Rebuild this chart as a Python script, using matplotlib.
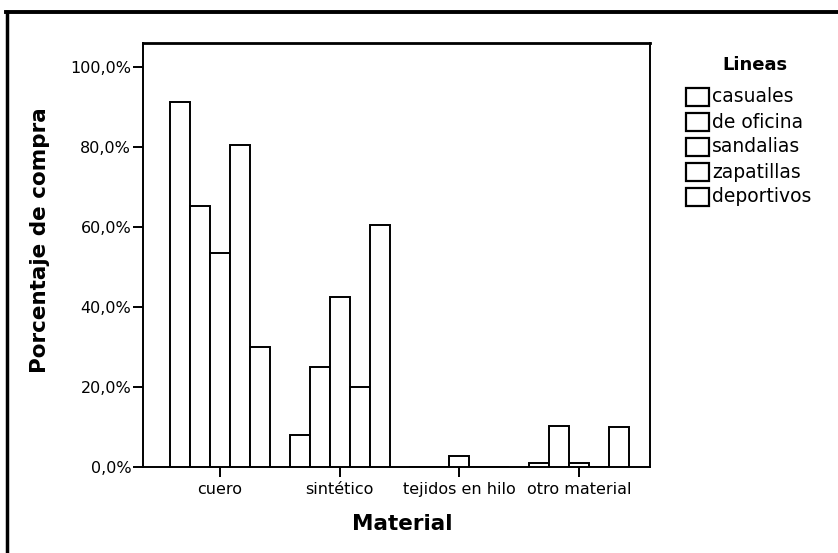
import numpy as np
import matplotlib
matplotlib.use("Agg")
import matplotlib.pyplot as plt
from matplotlib.patches import Rectangle
from matplotlib.lines import Line2D

W, H = 838, 553

# data (percent of purchases per material, by shoe line)
MATERIALES = ["cuero", "sintético", "tejidos en hilo", "otro material"]
LINEAS = ["casuales", "de oficina", "sandalias", "zapatillas", "deportivos"]
casuales   = [91.3,  8.0, 0.0,  1.0]
de_oficina = [65.2, 25.0, 0.0, 10.3]
sandalias  = [53.5, 42.5, 2.8,  1.0]
zapatillas = [80.5, 20.0, 0.0,  0.0]
deportivos = [30.0, 60.5, 0.0, 10.0]
SERIES = [casuales, de_oficina, sandalias, zapatillas, deportivos]
YTICKS = [0, 20, 40, 60, 80, 100]
YTICKLABELS = ["0,0%", "20,0%", "40,0%", "60,0%", "80,0%", "100,0%"]

plt.rcParams["font.family"] = ["DejaVu Sans"]


def fx(px):
    return px / W


def fy(py):
    return (H - py) / H


fig = plt.figure(figsize=(W / 100, H / 100), dpi=100)
ax = fig.add_axes([fx(143), fy(467), (650 - 143) / W, (467 - 42.7) / H])

x = np.arange(len(MATERIALES))
bw = 0.167
for i, vals in enumerate(SERIES):
    ax.bar(x + (i - 2) * bw, vals, width=bw, facecolor="white",
           edgecolor="black", linewidth=1.4, label=LINEAS[i], zorder=3)

ax.set_xlim(-0.643, 3.592)
ax.set_ylim(0, 106)
ax.set_yticks(YTICKS)
ax.set_yticklabels(YTICKLABELS, fontsize=11.5)
ax.set_xticks(x)
ax.set_xticklabels(MATERIALES, fontsize=11.5)
ax.tick_params(axis="both", direction="out", length=7, width=1.4, colors="black")
ax.tick_params(axis="y", pad=1.5)
ax.tick_params(axis="x", pad=3.5)
for s in ax.spines.values():
    s.set_linewidth(1.4)
ax.spines["top"].set_linewidth(2.0)

fig.text(fx(40), fy(240), "Porcentaje de compra", rotation=90, fontsize=15.5,
         fontweight="bold", ha="center", va="center")
fig.text(fx(402), fy(524), "Material", fontsize=15.5, fontweight="bold",
         ha="center", va="center")

# legend drawn by hand to match the original layout
fig.text(fx(755), fy(65), "Lineas", fontsize=13, fontweight="bold",
         ha="center", va="center")
for i, lab in enumerate(LINEAS):
    yc = 97 + 25 * i
    fig.add_artist(Rectangle((fx(686), fy(yc + 8.5)), 23 / W, 17 / H,
                             transform=fig.transFigure, facecolor="white",
                             edgecolor="black", linewidth=1.6))
    fig.text(fx(712), fy(yc), lab, fontsize=13.5, ha="left", va="center")

# outer frame (top and left edges only visible)
fig.add_artist(Line2D([fx(6), 1.0], [fy(12), fy(12)], transform=fig.transFigure,
                      color="black", linewidth=2.8))
fig.add_artist(Line2D([fx(6.5), fx(6.5)], [fy(12), 0.0], transform=fig.transFigure,
                      color="black", linewidth=2.5))

fig.savefig("out.png", dpi=100, facecolor="white")
